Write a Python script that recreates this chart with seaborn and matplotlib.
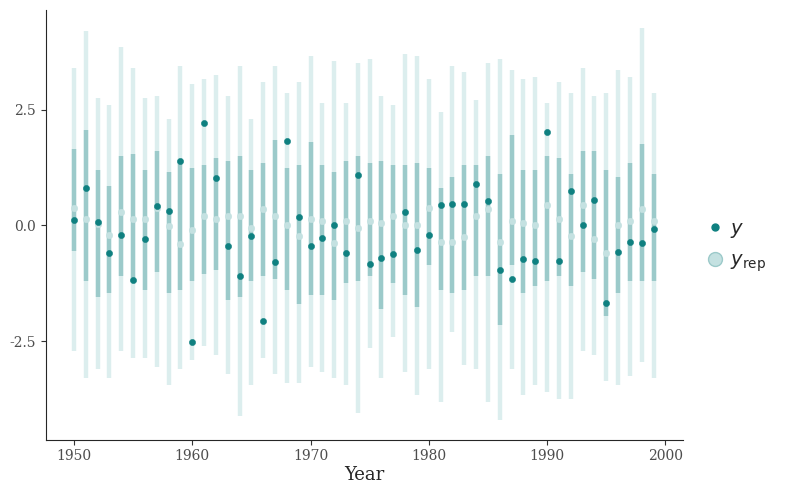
import matplotlib
matplotlib.use("Agg")
import matplotlib.pyplot as plt
import seaborn as sns
import pandas as pd
import numpy as np
from matplotlib.lines import Line2D

years = list(range(1950, 2000))
y_obs = [0.12,0.8,0.07,-0.6,-0.2,-1.17,-0.3,0.42,0.32,1.4,-2.52,2.2,1.02,-0.45,-1.1,-0.22,-2.07,-0.78,1.82,0.18,
         -0.45,-0.28,0.02,-0.6,1.08,-0.83,-0.7,-0.62,0.3,-0.53,-0.2,0.45,0.47,0.47,0.9,0.52,-0.95,-1.15,-0.72,-0.77,
         2.02,-0.76,0.75,0.01,0.55,-1.67,-0.58,-0.35,-0.38,-0.08]
med = [0.38,0.15,0.03,-0.2,0.3,0.15,0.15,0.38,-0.02,-0.4,-0.1,0.2,0.15,0.2,0.2,-0.05,0.35,0.2,0.0,-0.22,
       0.15,0.1,-0.38,0.1,-0.05,0.1,0.05,0.2,0.0,0.0,0.38,-0.35,-0.35,-0.25,0.2,0.35,-0.35,0.1,0.05,0.02,
       0.45,0.15,-0.22,0.45,-0.3,-0.6,0.0,0.1,0.35,0.1]
in_hi = [1.65,2.05,1.2,0.85,1.5,1.55,1.2,1.6,1.15,1.4,1.25,1.3,1.45,1.4,1.5,1.2,1.35,1.85,1.25,1.3,
         1.8,1.3,1.15,1.4,1.5,1.35,1.4,1.3,1.3,1.35,1.25,0.8,1.05,1.3,1.3,1.5,1.1,1.95,1.2,1.2,
         1.5,1.45,1.1,1.6,1.6,1.2,1.05,1.35,1.75,1.1]
in_lo = [-0.55,-1.2,-1.55,-1.45,-1.1,-1.2,-1.4,-1.0,-1.45,-1.4,-1.2,-1.05,-0.95,-1.6,-1.55,-1.2,-1.1,-1.15,-1.4,-1.7,
         -1.5,-1.5,-1.6,-1.25,-1.2,-1.1,-1.8,-1.25,-1.5,-1.75,-0.85,-1.4,-1.45,-1.4,-1.1,-1.1,-2.15,-0.85,-1.45,-1.3,
         -1.2,-1.1,-1.3,-1.0,-1.15,-1.95,-1.45,-1.2,-1.2,-1.2]
out_hi = [3.4,4.2,2.75,2.6,3.85,3.4,2.75,2.8,2.3,3.45,3.05,3.15,3.25,2.8,3.45,2.3,3.1,3.45,2.85,3.1,
          3.65,2.65,3.55,2.65,3.5,3.6,2.8,2.6,3.7,3.65,3.15,2.45,3.45,3.3,2.7,3.5,3.6,3.35,3.15,3.2,
          2.65,3.1,2.85,3.4,2.8,2.85,3.35,3.2,4.25,2.85]
out_lo = [-2.7,-3.3,-3.1,-3.3,-2.7,-2.85,-2.85,-3.05,-3.45,-3.1,-2.9,-2.6,-2.8,-3.2,-4.1,-3.45,-2.85,-3.2,-3.4,-3.4,
          -3.05,-3.15,-3.3,-3.45,-4.05,-2.65,-3.3,-2.4,-3.15,-3.65,-3.1,-3.8,-2.3,-3.0,-3.1,-3.8,-4.2,-3.1,-3.65,-3.45,
          -3.6,-3.75,-3.75,-2.7,-2.8,-3.35,-3.45,-3.25,-2.95,-3.3]

df = pd.DataFrame(dict(year=years, y=y_obs, med=med, in_lo=in_lo, in_hi=in_hi, out_lo=out_lo, out_hi=out_hi))

sns.set_style("ticks")
plt.rcParams['font.family'] = ['DejaVu Serif']

light = "#DCEEEE"
mid = "#9CCACA"
midpt = "#C4E1E1"
dark = "#0F8080"

fig, ax = plt.subplots(figsize=(7.99, 4.94), dpi=100)
ax.vlines(df.year, df.out_lo, df.out_hi, color=light, lw=3.2, zorder=1)
ax.vlines(df.year, df.in_lo, df.in_hi, color=mid, lw=3.2, zorder=2)
sns.scatterplot(data=df, x="year", y="med", ax=ax, color=midpt, s=22, edgecolor=midpt, zorder=3, legend=False)
sns.scatterplot(data=df, x="year", y="y", ax=ax, color=dark, s=20, edgecolor=dark, zorder=4, legend=False)

ax.set_xlim(1947.6, 2001.5)
ax.set_ylim(-4.62, 4.65)
ax.set_xticks([1950, 1960, 1970, 1980, 1990, 2000])
ax.set_yticks([-2.5, 0.0, 2.5])
ax.set_yticklabels(["-2.5", "0.0", "2.5"])
ax.tick_params(labelsize=10, colors="#333333", labelcolor="#4d4d4d")
ax.set_xlabel("Year", fontsize=13, labelpad=2)
ax.set_ylabel("")
sns.despine(ax=ax)

handles = [Line2D([], [], marker='o', color=dark, ls='', markersize=5),
           Line2D([], [], marker='o', color=midpt, markeredgecolor=mid, ls='', markersize=10)]
fig.legend(handles, ["$y$", r"$y_{\mathrm{rep}}$"], loc="center left", bbox_to_anchor=(0.88, 0.5),
           frameon=False, fontsize=14, handletextpad=0.2, labelspacing=0.6, handlelength=1.2,
           borderaxespad=0, borderpad=0)
fig.subplots_adjust(left=0.057, right=0.855, top=0.98, bottom=0.11)
fig.savefig("out.png", dpi=100)
